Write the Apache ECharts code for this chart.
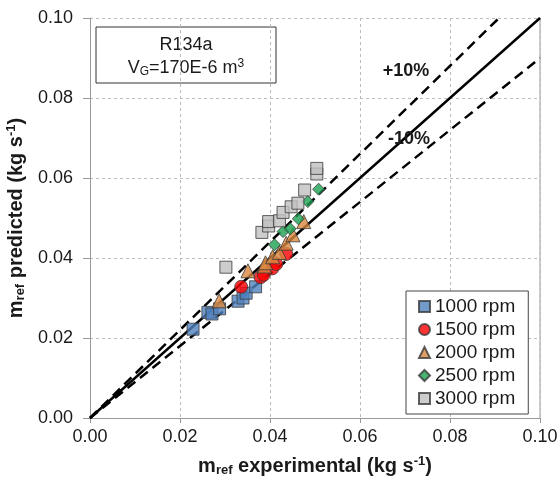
<!DOCTYPE html>
<html><head><meta charset="utf-8">
<script src="https://cdn.jsdelivr.net/npm/echarts@6/dist/echarts.min.js"></script>
<style>html,body{margin:0;padding:0;background:#fff}#c{width:560px;height:487px}</style>
</head><body><div id="c"></div>
<script>
const xTicks = [0, 0.02, 0.04, 0.06, 0.08, 0.10];
const yTicks = [0, 0.02, 0.04, 0.06, 0.08, 0.10];
const rpm1000 = [[0.0229,0.0222],[0.0262,0.0264],[0.0271,0.0260],[0.0288,0.0273],[0.0329,0.0292],[0.0340,0.0300],[0.0347,0.0312],[0.0368,0.0328]];
const rpm1500 = [[0.0336,0.0328],[0.0379,0.0352],[0.0386,0.0358],[0.0405,0.0374],[0.0414,0.0385],[0.0436,0.0410]];
const rpm2000 = [[0.0287,0.0293],[0.0351,0.0368],[0.0388,0.0380],[0.0390,0.0388],[0.0406,0.0403],[0.0421,0.0414],[0.0436,0.0437],[0.0451,0.0458],[0.0475,0.0491]];
const rpm2500 = [[0.0410,0.0433],[0.0429,0.0466],[0.0445,0.0473],[0.0463,0.0498],[0.0484,0.0541],[0.0508,0.0572]];
const rpm3000 = [[0.0302,0.0377],[0.0382,0.0464],[0.0397,0.0480],[0.0397,0.0491],[0.0421,0.0493],[0.0429,0.0514],[0.0447,0.0528],[0.0462,0.0537],[0.0477,0.0570],[0.0504,0.0610],[0.0504,0.0624]];
const perfectLine = [[0,0],[0.1,0.1]];
const plus10Line = [[0,0],[0.0909,0.1]];
const minus10Line = [[0,0],[0.1,0.09]];
const seriesNames = ['1000 rpm','1500 rpm','2000 rpm','2500 rpm','3000 rpm'];

const FONT = 'Liberation Sans, Arial, sans-serif';
const TXT = '#1a1a1a';
const chart = echarts.init(document.getElementById('c'), null, {renderer:'canvas'});
const border = {borderColor:'#3a3a3a', borderWidth:1};
function sc(name, data, symbol, size, color){
  return {name, type:'scatter', data, symbol, symbolSize:size, z:5,
    itemStyle:Object.assign({color}, border)};
}
function ln(data, dashed){
  return {type:'line', data, symbol:'none', silent:true, z:2,
    lineStyle:{color:'#000', width:2.5, type: dashed ? [10,6] : 'solid'}};
}
const fmt = v => v.toFixed(2);
const nameRich = {
  sub:{fontSize:13, fontWeight:'bold', color:TXT, padding:[9,0,0,0], fontFamily:FONT},
  sup:{fontSize:13, fontWeight:'bold', color:TXT, padding:[0,0,9,0], fontFamily:FONT}
};
chart.setOption({
  animation:false,
  backgroundColor:'#fff',
  textStyle:{fontFamily:FONT},
  grid:{left:90, right:20, top:18, bottom:69, containLabel:false, outerBoundsMode:'none'},
  xAxis:{type:'value', min:0, max:0.1, interval:0.02,
    name:'m{sub|ref} experimental (kg s{sup|-1})', nameLocation:'middle', nameGap:37,
    nameTextStyle:{fontFamily:FONT, fontSize:20, fontWeight:'bold', color:TXT, rich:nameRich},
    axisLine:{show:true, lineStyle:{color:'#999', width:1}},
    axisTick:{show:true, inside:false, length:5, lineStyle:{color:'#999'}},
    axisLabel:{fontFamily:FONT, fontSize:18, color:TXT, margin:10, formatter:fmt},
    splitLine:{show:true, lineStyle:{color:'#bbb', type:[3,3], width:1}}
  },
  yAxis:[{type:'value', min:0, max:0.1, interval:0.02,
    name:'m{sub|ref} predicted (kg s{sup|-1})', nameLocation:'middle', nameGap:58, nameRotate:90,
    nameTextStyle:{fontFamily:FONT, fontSize:20, fontWeight:'bold', color:TXT, rich:nameRich},
    axisLine:{show:true, lineStyle:{color:'#999', width:1}},
    axisTick:{show:true, inside:false, length:7, lineStyle:{color:'#999'}},
    axisLabel:{fontFamily:FONT, fontSize:18, color:TXT, margin:17, formatter:fmt},
    splitLine:{show:true, lineStyle:{color:'#bbb', type:[3,3], width:1}}
  },{type:'value', min:0, max:0.1, interval:0.02, position:'right',
    axisLine:{show:true, lineStyle:{color:'#bbb', width:1.5}},
    axisTick:{show:false}, axisLabel:{show:false}, splitLine:{show:false}}],
  legend:{orient:'vertical', left:406, top:291, data:seriesNames,
    backgroundColor:'#fff', borderColor:'#444', borderWidth:1,
    padding:[6,13,6,12], itemWidth:11, itemHeight:11, itemGap:4,
    textStyle:{fontFamily:FONT, fontSize:19, color:TXT}},
  series:[
    ln(perfectLine,false), ln(plus10Line,true), ln(minus10Line,true),
    sc(seriesNames[0], rpm1000, 'rect', 12, '#4f81bd'),
    sc(seriesNames[1], rpm1500, 'circle', 13, '#ff0000'),
    sc(seriesNames[2], rpm2000, 'triangle', 14, '#d9873e'),
    sc(seriesNames[3], rpm2500, 'diamond', 12, '#1aa050'),
    sc(seriesNames[4], rpm3000, 'rect', 12, '#c0c0c0')
  ],
  graphic:[
    {type:'group', z:100, children:[
      {type:'rect', shape:{x:96, y:27, width:180, height:56}, style:{fill:'#fff', stroke:'#333', lineWidth:1}},
      {type:'text', x:186, y:45, style:{text:'R134a', font:'18px '+FONT, fill:TXT, align:'center', verticalAlign:'middle'}},
      {type:'text', x:186, y:68, style:{text:'V{sub|G}=170E-6 m{sup|3}', font:'18px '+FONT, fill:TXT, align:'center', verticalAlign:'middle',
        rich:{sub:{fontSize:12, fontFamily:FONT, fill:TXT, padding:[8,0,0,0]}, sup:{fontSize:12, fontFamily:FONT, fill:TXT, padding:[0,0,8,0]}}}}
    ]},
    {type:'text', z:100, x:406, y:71, style:{text:'+10%', font:'bold 18px '+FONT, fill:TXT, align:'center', verticalAlign:'middle'}},
    {type:'text', z:100, x:409, y:139, style:{text:'-10%', font:'bold 18px '+FONT, fill:TXT, align:'center', verticalAlign:'middle'}}
  ]
});
</script></body></html>
